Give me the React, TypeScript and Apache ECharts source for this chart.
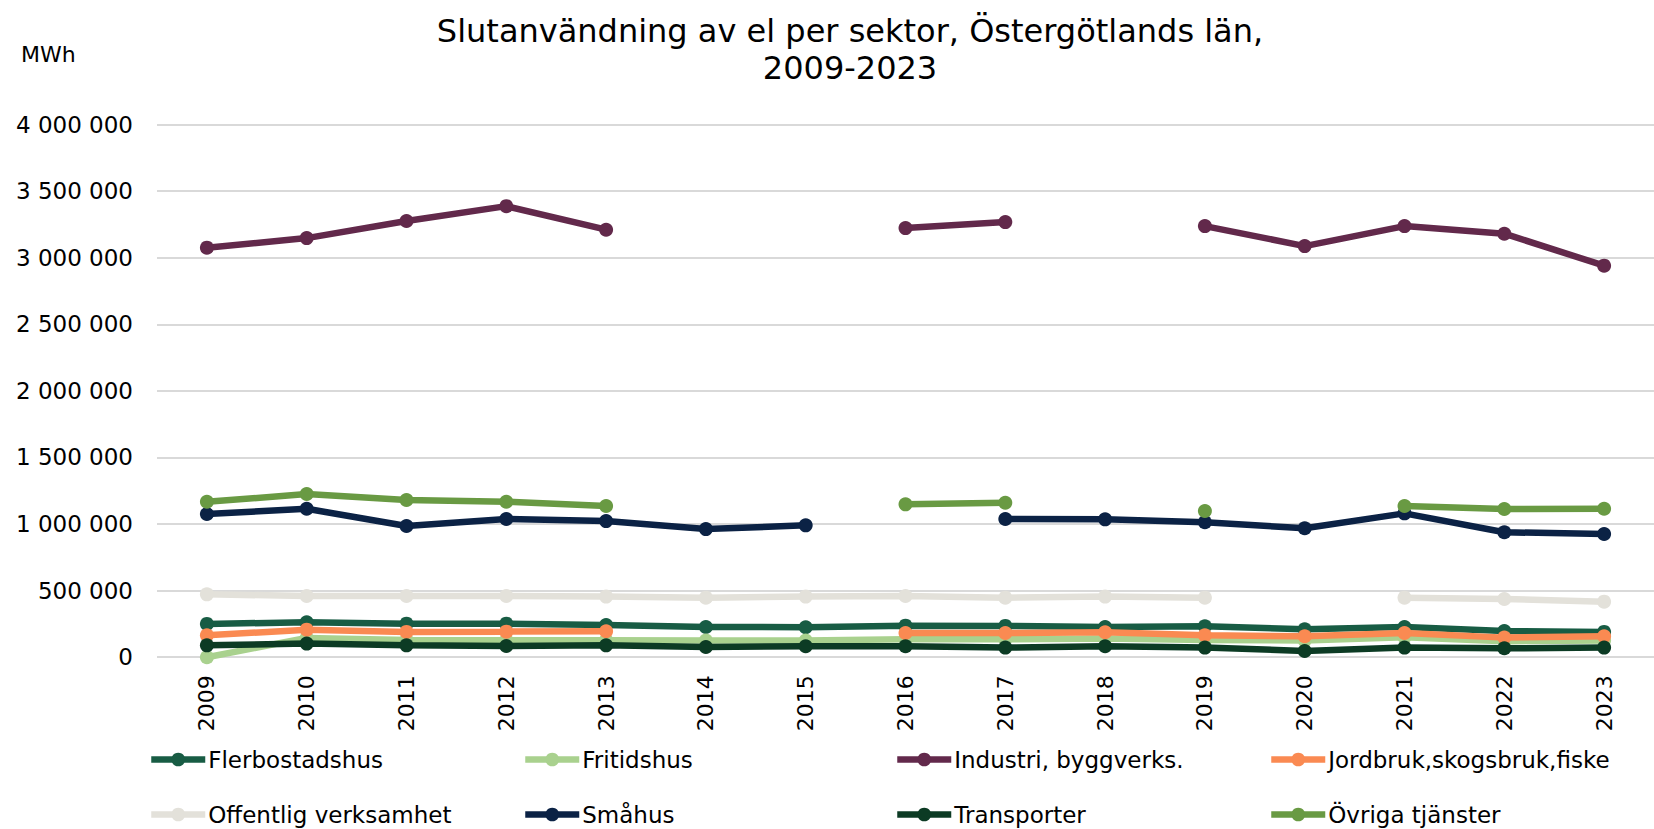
import React, { useEffect, useRef } from "react";
import * as echarts from "echarts";

const years = ["2009","2010","2011","2012","2013","2014","2015","2016","2017","2018","2019","2020","2021","2022","2023"];

const seriesNames = [
  "Flerbostadshus",
  "Fritidshus",
  "Industri, byggverks.",
  "Jordbruk,skogsbruk,fiske",
  "Offentlig verksamhet",
  "Småhus",
  "Transporter",
  "Övriga tjänster",
];

const flerbostadshus = [250000,262000,252000,252000,242000,227000,225000,237000,235000,227000,232000,210000,227000,197000,190000];
const fritidshus = [0,145000,130000,128000,128000,125000,125000,135000,135000,140000,130000,125000,150000,120000,125000];
const industri = [3075000,3147000,3275000,3387000,3210000,null,null,3222000,3267000,null,3237000,3087000,3237000,3180000,2940000];
const jordbruk = [164000,207000,190000,192000,195000,null,null,182000,182000,187000,165000,157000,182000,147000,157000];
const offentlig = [472000,460000,460000,460000,455000,447000,455000,460000,447000,455000,447000,null,447000,437000,417000];
const smahus = [1075000,1115000,985000,1038000,1022000,962000,990000,null,1038000,1035000,1013000,968000,1080000,938000,925000];
const transporter = [89000,102000,89000,84000,89000,77000,82000,82000,72000,82000,72000,47000,72000,67000,72000];
const ovriga = [1167000,1225000,1180000,1167000,1135000,null,null,1148000,1160000,null,1098000,null,1135000,1113000,1115000];

const colors = ["#185c44", "#a9d18e", "#62294b", "#fa8a52", "#e3e1da", "#0b2245", "#0c3b24", "#699a43"];

const seriesData = [flerbostadshus, fritidshus, industri, jordbruk, offentlig, smahus, transporter, ovriga];

const yTicks = { min: 0, max: 4000000, interval: 500000 };

const FONT = "DejaVu Sans, Verdana, sans-serif";

const fmt = (v: number) => String(v).replace(/\B(?=(\d{3})+(?!\d))/g, " ");

export default function App() {
  const ref = useRef<HTMLDivElement>(null);
  useEffect(() => {
    if (!ref.current) return;
    const chart = echarts.init(ref.current, undefined, { renderer: "svg" });
    const legendPos = [
      [148, 748], [522, 748], [894, 748], [1268, 748],
      [148, 803], [522, 803], [894, 803], [1268, 803],
    ];
    chart.setOption({
      animation: false,
      color: colors,
      textStyle: { fontFamily: FONT },
      title: {
        text: "Slutanvändning av el per sektor, Östergötlands län,\n2009-2023",
        left: 845,
        top: 7,
        textAlign: "center",
        textStyle: { fontFamily: FONT, fontSize: 32, fontWeight: "normal", color: "#000", lineHeight: 37 },
      },
      graphic: [
        { type: "text", left: 21, top: 43, style: { text: "MWh", fontFamily: FONT, fontSize: 22, fill: "#000" } },
      ],
      legend: seriesNames.map((n, i) => ({
        data: [n],
        left: legendPos[i][0],
        top: legendPos[i][1],
        padding: 0,
        itemWidth: 54,
        itemHeight: 17,
        itemGap: 0,
        lineStyle: { width: 6.5 },
        textStyle: { fontFamily: FONT, fontSize: 23, color: "#000", padding: [0, 0, 0, -2] },
        selectedMode: false,
      })),
      grid: { left: 157, top: 124.5, width: 1516, height: 532.7, containLabel: false },
      xAxis: {
        type: "category",
        data: years,
        boundaryGap: true,
        axisLine: { show: false },
        axisTick: { show: false },
        axisLabel: { rotate: 90, margin: 18, fontFamily: FONT, fontSize: 22, color: "#000" },
      },
      yAxis: {
        type: "value",
        min: yTicks.min,
        max: yTicks.max,
        interval: yTicks.interval,
        axisLine: { show: false },
        axisTick: { show: false },
        splitLine: { lineStyle: { color: "#d9d9d9", width: 2 } },
        axisLabel: { formatter: fmt, margin: 24, fontFamily: FONT, fontSize: 23, color: "#000" },
      },
      series: seriesNames.map((n, i) => ({
        name: n,
        type: "line",
        data: seriesData[i],
        symbol: "circle",
        symbolSize: 14,
        showSymbol: true,
        showAllSymbol: true,
        connectNulls: false,
        lineStyle: { width: 6.5, color: colors[i] },
        itemStyle: { color: colors[i] },
        z: 2 + i,
      })),
    });
    return () => chart.dispose();
  }, []);
  return <div ref={ref} style={{ position: "absolute", left: 0, top: 0, width: 1654, height: 829, background: "#fff" }} />;
}
